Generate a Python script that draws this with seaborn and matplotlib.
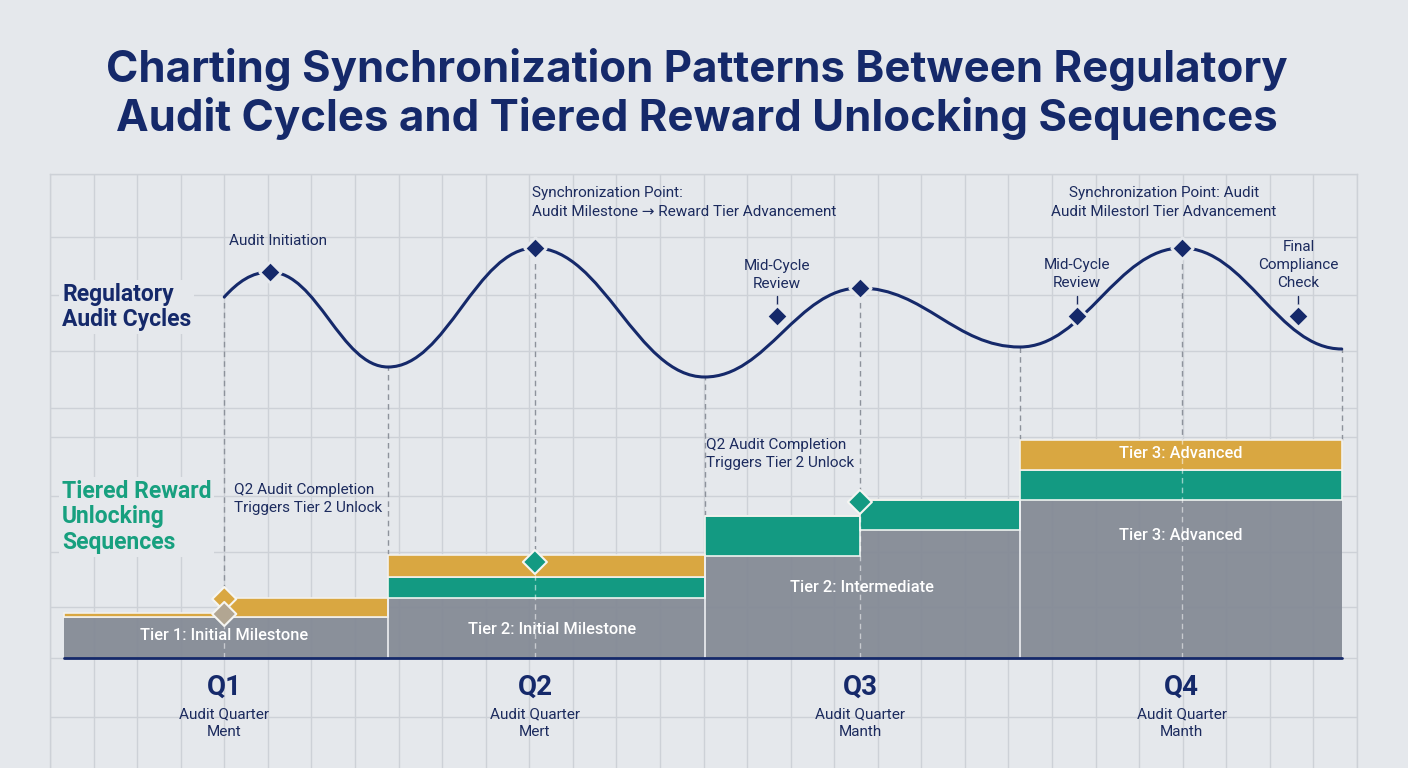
import matplotlib
matplotlib.use("Agg")
import matplotlib.pyplot as plt
from matplotlib.path import Path
from matplotlib.patches import PathPatch
import seaborn as sns
import pandas as pd

# audit cycle curve: turning points (grid column, audit intensity)
wave_x = [4.0, 5.05, 7.76, 11.13, 15.03, 18.59, 22.26, 25.98, 29.65]
wave_y = [36.1, 38.6, 29.1, 41.0, 28.1, 37.0, 31.1, 41.0, 30.9]

# milestone diamonds on the audit curve
milestone_x = [5.05, 11.13, 16.69, 18.59, 23.57, 25.98, 28.64]
milestone_y = [38.6, 41.0, 34.2, 37.0, 34.2, 41.0, 34.2]

# reward tier step segments
seg_start = [0.32, 4.0, 7.76, 15.03, 18.59, 22.26]
seg_end = [4.0, 7.76, 15.03, 18.59, 22.26, 29.65]
base_level = [4.1, 4.1, 6.0, 10.2, 12.8, 15.8]
teal_level = [4.1, 4.1, 8.1, 14.2, 15.8, 18.8]
gold_level = [4.5, 6.0, 10.3, 14.2, 15.8, 21.8]

# unlock diamonds in the reward area
unlock_x = [4.0, 4.0, 11.13, 18.59]
unlock_y = [5.9, 4.4, 9.6, 15.6]
unlock_kind = ["gold", "faded", "teal", "teal"]

# dashed sync lines: x, top (curve) and bottom
sync_x = [4.0, 7.76, 11.13, 15.03, 18.59, 22.26, 25.98, 29.65]
sync_top = [36.1, 29.1, 41.0, 28.1, 37.0, 31.1, 41.0, 30.9]
sync_bottom = [0, 10.3, 0, 14.2, 0, 21.8, 0, 21.8]

quarters = ["Q1", "Q2", "Q3", "Q4"]
quarter_x = [4.0, 11.13, 18.59, 25.98]
quarter_sub = ["Audit Quarter\nMent", "Audit Quarter\nMert",
               "Audit Quarter\nManth", "Audit Quarter\nManth"]

BG = "#e5e8ec"
GRID = "#cdd1d7"
NAVY = "#15296a"
TEXT = "#1c2b5e"
GRAY = "#858b96"
TEAL = "#139a82"
GOLD = "#d9a741"
GREEN_TXT = "#17a07f"

sns.set_theme(style="white")
plt.rcParams["font.family"] = ["Roboto", "DejaVu Sans"]

fig = plt.figure(figsize=(14.08, 7.68), dpi=100, facecolor=BG)
ax = fig.add_axes([50 / 1408, 0, 1307 / 1408, 594 / 768])
ax.set_facecolor("none")
ax.set_xlim(0, 30)
ax.set_ylim(-11, 48.4)

# grid
ax.set_xticks(range(31))
ax.set_yticks([48.4, 42.1, 36.3, 30.7, 25.0, 22.1, 16.2, 10.6, 5.1, 0, -5.9])
ax.grid(True, color=GRID, lw=1, zorder=0)
ax.tick_params(length=0, labelbottom=False, labelleft=False)
for s in ax.spines.values():
    s.set_color(GRID)
    s.set_linewidth(1)
ax.spines["bottom"].set_visible(False)

# dashed sync lines behind the bars
for x, t, b in zip(sync_x, sync_top, sync_bottom):
    ax.plot([x, x], [b, t], color="#8d929b", lw=1, ls=(0, (4, 3)), zorder=1)

# reward tier bars
widths = [e - s for s, e in zip(seg_start, seg_end)]
teal_h = [t - b for t, b in zip(teal_level, base_level)]
gold_h = [g - t for g, t in zip(gold_level, teal_level)]
ax.bar(seg_start, base_level, width=widths, align="edge", color=GRAY,
       alpha=0.95, edgecolor="none", zorder=2)
ax.bar(seg_start, teal_h, bottom=base_level, width=widths, align="edge",
       color=TEAL, edgecolor="#eef3f0", lw=1.2, zorder=2)
ax.bar(seg_start, gold_h, bottom=teal_level, width=widths, align="edge",
       color=GOLD, edgecolor="#f3f1ec", lw=1.2, zorder=2)
for x, h in zip(seg_start, base_level):
    if x in (7.76, 15.03, 22.26):
        ax.plot([x, x], [0, h], color="#eef0f2", lw=1.2, zorder=2.5)

# light dashes through the bars at quarter centres
for x, t, b in zip(sync_x, sync_top, sync_bottom):
    if b == 0:
        top = max(g for s, e, g in zip(seg_start, seg_end, gold_level) if s <= x < e)
        ax.plot([x, x], [0, top], color="white", alpha=0.55, lw=1,
                ls=(0, (4, 3)), zorder=3)

# baseline
ax.plot([seg_start[0], seg_end[-1]], [0, 0], color=NAVY, lw=2, zorder=4)

# audit wave as smooth cubic segments through the turning points
verts = [(wave_x[0], wave_y[0])]
codes = [Path.MOVETO]
for i in range(len(wave_x) - 1):
    x0, y0, x1, y1 = wave_x[i], wave_y[i], wave_x[i + 1], wave_y[i + 1]
    dx = x1 - x0
    if i == 0:
        c1 = (x0 + 0.3 * dx, y0 + 0.6 * (y1 - y0))
    else:
        c1 = (x0 + 0.4 * dx, y0)
    c2 = (x1 - 0.4 * dx, y1)
    verts += [c1, c2, (x1, y1)]
    codes += [Path.CURVE4] * 3
ax.add_patch(PathPatch(Path(verts, codes), fill=False, edgecolor=NAVY,
                       lw=2.2, zorder=5, capstyle="round"))

# milestone diamonds
ms = pd.DataFrame({"x": milestone_x, "y": milestone_y})
sns.scatterplot(data=ms, x="x", y="y", marker="D", s=120, color=NAVY,
                edgecolor=BG, linewidth=2, ax=ax, zorder=6)
for x in [16.69, 23.57, 28.64]:
    ax.plot([x, x], [35.2, 36.2], color=TEXT, lw=1, zorder=5)

ud = pd.DataFrame({"x": unlock_x, "y": unlock_y, "kind": unlock_kind})
sns.scatterplot(data=ud, x="x", y="y", hue="kind", marker="D", s=150,
                palette={"gold": GOLD, "faded": "#b2a692", "teal": TEAL},
                edgecolor="#f5f5f2", linewidth=1.5, ax=ax, zorder=7, legend=False)
ax.set_xlabel("")
ax.set_ylabel("")

# annotations
ann = dict(color=TEXT, fontsize=11, zorder=8, linespacing=1.38)
ax.text(5.23, 41.7, "Audit Initiation", ha="center", va="center", **ann)
ax.text(11.06, 45.55, "Synchronization Point:\nAudit Milestone \u2192 Reward Tier Advancement",
        ha="left", va="center", **ann)
ax.text(16.69, 38.3, "Mid-Cycle\nReview", ha="center", va="center", **ann)
ax.text(25.57, 45.55, "Synchronization Point: Audit\nAudit Milestorl Tier Advancement",
        ha="center", va="center", **ann)
ax.text(23.57, 38.4, "Mid-Cycle\nReview", ha="center", va="center", **ann)
ax.text(28.66, 39.3, "Final\nCompliance\nCheck", ha="center", va="center", **ann)
ax.text(4.22, 15.9, "Q2 Audit Completion\nTriggers Tier 2 Unlock", ha="left", va="center", **ann)
ax.text(15.06, 20.4, "Q2 Audit Completion\nTriggers Tier 2 Unlock", ha="left", va="center", **ann)

# labels inside bars
bar_txt = dict(color="white", fontsize=11.8, ha="center", va="center", zorder=8,
               fontweight="medium")
ax.text(4.0, 2.2, "Tier 1: Initial Milestone", **bar_txt)
ax.text(11.52, 2.9, "Tier 2: Initial Milestone", **bar_txt)
ax.text(18.64, 7.0, "Tier 2: Intermediate", **bar_txt)
ax.text(25.96, 20.4, "Tier 3: Advanced", **bar_txt)
ax.text(25.96, 12.3, "Tier 3: Advanced", **bar_txt)

# quarter labels
for q, x, sub in zip(quarters, quarter_x, quarter_sub):
    ax.text(x, -2.9, q, color=NAVY, fontsize=20, fontweight="bold",
            ha="center", va="center")
    ax.text(x, -6.5, sub, color=TEXT, fontsize=11, ha="center", va="center",
            linespacing=1.35)

# section labels
sec = dict(fontsize=16.5, fontweight="bold", ha="left", va="center", linespacing=1.16,
           bbox=dict(facecolor=BG, edgecolor="none", pad=2))
fig.text(62 / 1408, 1 - 307 / 768, "Regulatory\nAudit Cycles", color=NAVY, **sec)
fig.text(62 / 1408, 1 - 517 / 768, "Tiered Reward\nUnlocking\nSequences",
         color=GREEN_TXT, **sec)

# title
fig.text(697 / 1408, 1 - 94 / 768,
         "Charting Synchronization Patterns Between Regulatory\n"
         "Audit Cycles and Tiered Reward Unlocking Sequences",
         color=NAVY, fontsize=31.5, fontweight="bold", ha="center", va="center",
         linespacing=1.16, family=["Inter", "DejaVu Sans"])

fig.savefig("out.png", dpi=100, facecolor=BG)
